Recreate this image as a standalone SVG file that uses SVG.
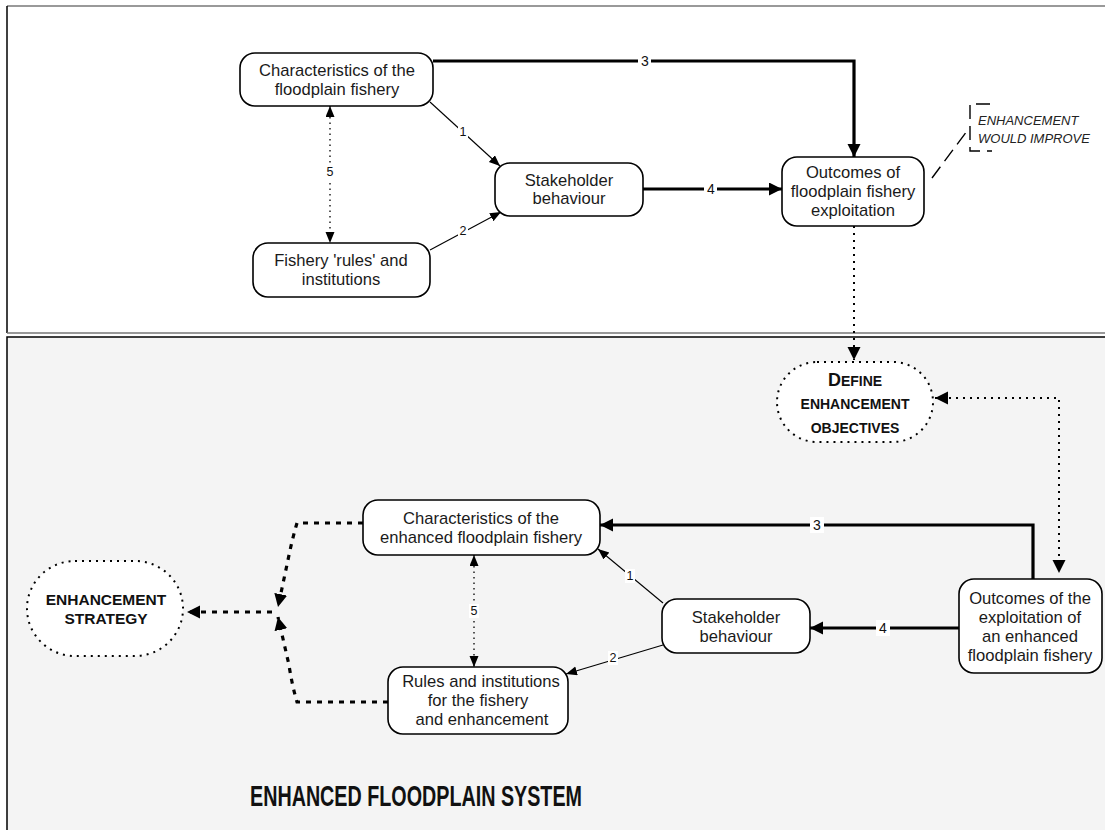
<svg xmlns="http://www.w3.org/2000/svg" width="1105" height="830" viewBox="0 0 1105 830">
<style>
.node rect{fill:#fff;stroke:#000;stroke-width:1.6}
.t{font-family:"Liberation Sans",Arial,sans-serif;font-size:16.6px;fill:#1a1a1a;text-anchor:middle}
.lbl{font-family:"Liberation Sans",Arial,sans-serif;fill:#111;text-anchor:middle}
.thick{fill:none;stroke:#000;stroke-width:3.2}
.thin{fill:none;stroke:#000;stroke-width:1.1}
.dot{fill:none;stroke:#000;stroke-width:1.3;stroke-dasharray:1.5 4}
.dot2{fill:none;stroke:#000;stroke-width:2;stroke-dasharray:2 5}
.dash{fill:none;stroke:#000;stroke-width:3.2;stroke-dasharray:5 6}
.b{font-family:"Liberation Sans",Arial,sans-serif;font-weight:bold;fill:#111;text-anchor:middle}
</style>
<defs>
<marker id="aB" markerUnits="userSpaceOnUse" markerWidth="14" markerHeight="14" refX="13" refY="6.5" orient="auto-start-reverse" viewBox="0 0 14 14"><path d="M0,0 L13,6.5 L0,13 z" fill="#000"/></marker>
<marker id="aS" markerUnits="userSpaceOnUse" markerWidth="12" markerHeight="10" refX="11" refY="4.5" orient="auto-start-reverse" viewBox="0 0 12 10"><path d="M0,0 L11,4.5 L0,9 z" fill="#000"/></marker>
</defs>

<!-- panels -->
<g id="panels">
<rect x="7" y="6" width="1110" height="327" fill="#fff"/>
<line x1="7" y1="6" x2="1105" y2="6" stroke="#777" stroke-width="1.6"/>
<line x1="7" y1="6" x2="7" y2="333" stroke="#000" stroke-width="1.5"/>
<line x1="7" y1="333" x2="1105" y2="333" stroke="#777" stroke-width="1.6"/>
<rect x="7" y="337" width="1110" height="510" fill="#f4f4f4" stroke="#000" stroke-width="1.5"/>
</g>

<!-- connectors -->
<g id="connectors">
<path class="thick" d="M433,61 L854,61 L854,157" marker-end="url(#aB)"/>
<rect x="638" y="53" width="13" height="16" fill="#fff"/>
<text class="lbl" x="645" y="66" font-size="14">3</text>

<path class="thick" d="M643,189 L782,189" marker-end="url(#aB)"/>
<rect x="704" y="181" width="13" height="16" fill="#fff"/>
<text class="lbl" x="711" y="194" font-size="14">4</text>

<path class="thin" d="M430,102 L500,166" marker-end="url(#aS)"/>
<rect x="458" y="125" width="10" height="13" fill="#fff"/>
<text class="lbl" x="463" y="136" font-size="12.5">1</text>

<path class="thin" d="M430,250 L501,212" marker-end="url(#aS)"/>
<rect x="458" y="224" width="10" height="13" fill="#fff"/>
<text class="lbl" x="463" y="235" font-size="12.5">2</text>

<path class="dot" d="M330,106 L330,243" marker-start="url(#aS)" marker-end="url(#aS)"/>
<rect x="325" y="165" width="10" height="14" fill="#fff"/>
<text class="lbl" x="330" y="176" font-size="12.5">5</text>

<path class="dot2" d="M854,226 L854,360" marker-end="url(#aB)"/>
<path class="dot2" d="M935,398 L1059,398 L1059,573" marker-start="url(#aB)" marker-end="url(#aB)"/>

<path d="M932,178 L970,127 M990,104 L970,104 L970,151 L992,151" fill="none" stroke="#000" stroke-width="1.4" stroke-dasharray="14 7"/>

<path class="thick" d="M1033,579 L1033,525 L600,525" marker-end="url(#aB)"/>
<rect x="810" y="517" width="14" height="16" fill="#fff"/>
<text class="lbl" x="817" y="530" font-size="14">3</text>

<path class="thick" d="M959,628 L810,628" marker-end="url(#aB)"/>
<rect x="876" y="620" width="14" height="16" fill="#fff"/>
<text class="lbl" x="883" y="633" font-size="14">4</text>

<path class="thin" d="M663,603 L598,549" marker-end="url(#aS)"/>
<rect x="625" y="569" width="10" height="14" fill="#fff"/>
<text class="lbl" x="630" y="580" font-size="12.5">1</text>

<path class="thin" d="M663,645 L566,674" marker-end="url(#aS)"/>
<rect x="608" y="651" width="10" height="14" fill="#fff"/>
<text class="lbl" x="613" y="662" font-size="12.5">2</text>

<path class="dot" d="M474,555 L474,667" marker-start="url(#aS)" marker-end="url(#aS)"/>
<rect x="469" y="604" width="10" height="14" fill="#fff"/>
<text class="lbl" x="474" y="615" font-size="12.5">5</text>

<path class="dash" d="M363,523 L297,523 Q292,540 288,560 L278,607" marker-end="url(#aB)"/>
<path class="dash" d="M388,702 L297,702 Q292,685 289,665 L278,617" marker-end="url(#aB)"/>
<path class="dash" d="M272,612 L187,612" marker-end="url(#aB)"/>
</g>

<!-- top nodes -->
<g id="n-char" class="node">
<rect x="240" y="53" width="193" height="53" rx="15"/>
<text class="t" x="337" y="76">Characteristics of the</text>
<text class="t" x="337" y="95">floodplain fishery</text>
</g>
<g id="n-rules" class="node">
<rect x="253" y="243" width="177" height="54" rx="15"/>
<text class="t" x="341" y="266">Fishery 'rules' and</text>
<text class="t" x="341" y="285">institutions</text>
</g>
<g id="n-stake" class="node">
<rect x="495" y="163" width="148" height="53" rx="15"/>
<text class="t" x="569" y="186">Stakeholder</text>
<text class="t" x="569" y="204">behaviour</text>
</g>
<g id="n-outcomes" class="node">
<rect x="782" y="157" width="142" height="69" rx="15"/>
<text class="t" x="853" y="178">Outcomes of</text>
<text class="t" x="853" y="197">floodplain fishery</text>
<text class="t" x="853" y="216">exploitation</text>
</g>
<g id="n-note">
<text x="978" y="125" font-family="Liberation Sans,Arial,sans-serif" font-style="italic" font-size="13" fill="#222">ENHANCEMENT</text>
<text x="978" y="143" font-family="Liberation Sans,Arial,sans-serif" font-style="italic" font-size="13" fill="#222">WOULD IMPROVE</text>
</g>

<!-- lower nodes -->
<g id="n-define">
<rect x="777" y="362" width="156" height="80" rx="40" fill="#fff" stroke="#000" stroke-width="2" stroke-dasharray="2 5"/>
<text class="b" x="855" y="386" font-size="14"><tspan font-size="18">D</tspan>EFINE</text>
<text class="b" x="855" y="409" font-size="14">ENHANCEMENT</text>
<text class="b" x="855" y="433" font-size="14">OBJECTIVES</text>
</g>
<g id="n-strategy">
<rect x="27" y="561" width="156" height="95" rx="48" fill="#fff" stroke="#000" stroke-width="2" stroke-dasharray="2 5"/>
<text class="b" x="106" y="605" font-size="15.5">ENHANCEMENT</text>
<text class="b" x="106" y="624" font-size="15.5">STRATEGY</text>
</g>
<g id="n-char2" class="node">
<rect x="363" y="500" width="237" height="55" rx="15"/>
<text class="t" x="481" y="524">Characteristics of the</text>
<text class="t" x="481" y="543">enhanced floodplain fishery</text>
</g>
<g id="n-stake2" class="node">
<rect x="662" y="599" width="148" height="54" rx="15"/>
<text class="t" x="736" y="623">Stakeholder</text>
<text class="t" x="736" y="642">behaviour</text>
</g>
<g id="n-rules2" class="node">
<rect x="388" y="667" width="180" height="67" rx="15"/>
<text class="t" x="481" y="687">Rules and institutions</text>
<text class="t" x="478" y="706">for the fishery</text>
<text class="t" x="482" y="725">and enhancement</text>
</g>
<g id="n-outcomes2" class="node">
<rect x="959" y="579" width="143" height="94" rx="15"/>
<text class="t" x="1030" y="604">Outcomes of the</text>
<text class="t" x="1030" y="623">exploitation of</text>
<text class="t" x="1030" y="642">an enhanced</text>
<text class="t" x="1030" y="661">floodplain fishery</text>
</g>
<g id="title">
<text class="b" x="416" y="806" font-size="30" textLength="332" lengthAdjust="spacingAndGlyphs">ENHANCED FLOODPLAIN SYSTEM</text>
</g>
</svg>
